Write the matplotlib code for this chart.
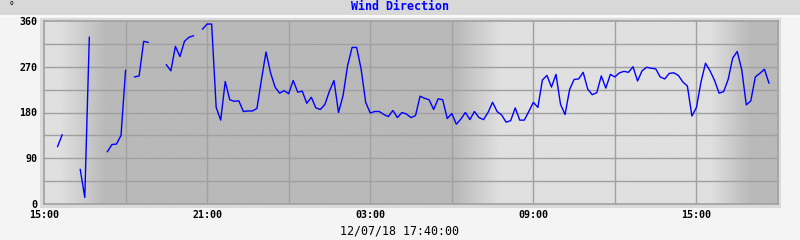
import numpy as np
import matplotlib
matplotlib.use("Agg")
import matplotlib.pyplot as plt
from matplotlib.patches import Rectangle

nan = np.nan
# 10-minute samples starting 15:00 (index k -> 15:00 + 10*k min)
start_label = "15:00"
sample_minutes = 10
wind_dir = [
    nan, nan, nan, 113, 136, nan, nan, nan, 68, 13, 328, nan, nan, nan,
    103, 117, 118, 135, 263, nan, 250, 252, 320, 318, nan, nan, nan,
    274, 262, 310, 290, 320, 328, 331, nan,
    344, 354, 354, 190, 165, 241, 205, 202, 203, 182, 183, 183, 188, 245,
    299, 258, 230, 218, 223, 217, 243, 220, 222, 198, 210, 189, 186, 196,
    222, 243, 180, 213, 272, 308, 308, 265, 200, 179, 182, 182, 176, 172,
    184, 170, 180, 177, 170, 174, 212, 208, 205, 186, 207, 205, 168, 178,
    157, 167, 180, 166, 182, 170, 166, 180, 200, 182, 175, 161, 164, 189,
    165, 165, 182, 200, 190, 244, 253, 230, 255, 196, 176, 225, 245, 246,
    259, 226, 215, 219, 252, 228, 255, 250, 258, 261, 259, 270, 242, 262,
    269, 267, 266, 250, 246, 257, 258, 253, 240, 232, 173, 190, 240, 277,
    262, 243, 218, 221, 245, 287, 300, 264, 195, 203, 250, 257, 265, 238,
]
x_tick_hours = [0, 6, 12, 18, 24]
x_tick_labels = ["15:00", "21:00", "03:00", "09:00", "15:00"]
y_ticks = [0, 90, 180, 270, 360]
title = "Wind Direction"
stamp = "12/07/18 17:40:00"

# day/night shading (hours since start, brightness)
shade_hours = [0, 0.6, 2.3, 15.15, 16.75, 24.55, 26.0, 27]
shade_level = [0.875, 0.875, 0.725, 0.725, 0.875, 0.875, 0.725, 0.725]

hours = np.arange(len(wind_dir)) * sample_minutes / 60.0
vals = np.array(wind_dir, dtype=float)

W, H = 800, 240
fig = plt.figure(figsize=(W / 100, H / 100), dpi=100)
fig.patch.set_facecolor("#f4f4f4")

def px_rect(x0, y0, x1, y1, color):
    fig.patches.append(Rectangle((x0 / W, 1 - y1 / H), (x1 - x0) / W, (y1 - y0) / H,
                                 transform=fig.transFigure, facecolor=color,
                                 edgecolor="none", zorder=-5))

px_rect(0, 0, 800, 14.5, "#d8d8d8")
px_rect(0, 14.5, 800, 17, "#fafafa")
px_rect(40, 18, 781, 207.5, "#dadada")

ax = fig.add_axes([44 / W, 1 - 204 / H, 734 / W, 183 / H])
ax.set_zorder(2)
ax.set_xlim(0, 27)
ax.set_ylim(0, 360)

xs = np.linspace(0, 27, 1500)
bright = np.interp(xs, shade_hours, shade_level)
img = np.tile(bright, (2, 1))
ax.imshow(img, extent=[0, 27, 0, 360], aspect="auto", cmap="gray",
          vmin=0, vmax=1, interpolation="bilinear", zorder=0)

for h in np.arange(3, 27, 3):
    ax.axvline(h, color="#a0a0a0", lw=1.0, zorder=1)
for v in np.arange(45, 360, 45):
    ax.axhline(v, color="#a0a0a0", lw=1.0, zorder=1)

ax.plot(hours, vals, color="#0000ff", lw=1.0, zorder=3)

for s in ax.spines.values():
    s.set_color("#a0a0a0")
    s.set_linewidth(1.2)

mono = "DejaVu Sans Mono"
ax.set_xticks(x_tick_hours)
ax.set_xticklabels(x_tick_labels, fontfamily=mono, fontweight="bold", fontsize=7.2)
ax.set_yticks(y_ticks)
ax.set_yticklabels([str(v) for v in y_ticks], fontfamily=mono, fontweight="bold", fontsize=7.2)
ax.tick_params(axis="x", length=0, pad=4, colors="black")
ax.tick_params(axis="y", length=0, pad=5, colors="black")

fig.text(400 / W, 1 - 7 / H, title, ha="center", va="center", color="#0000ff",
         fontfamily=mono, fontweight="bold", fontsize=8.4)
fig.text(400 / W, 1 - 231 / H, stamp, ha="center", va="center", color="black",
         fontfamily=mono, fontsize=8.4)
fig.text(12 / W, 1 - 1 / H, "°", ha="center", va="top", color="black",
         fontfamily=mono, fontsize=7)

fig.savefig("out.png", dpi=100, facecolor=fig.get_facecolor())
